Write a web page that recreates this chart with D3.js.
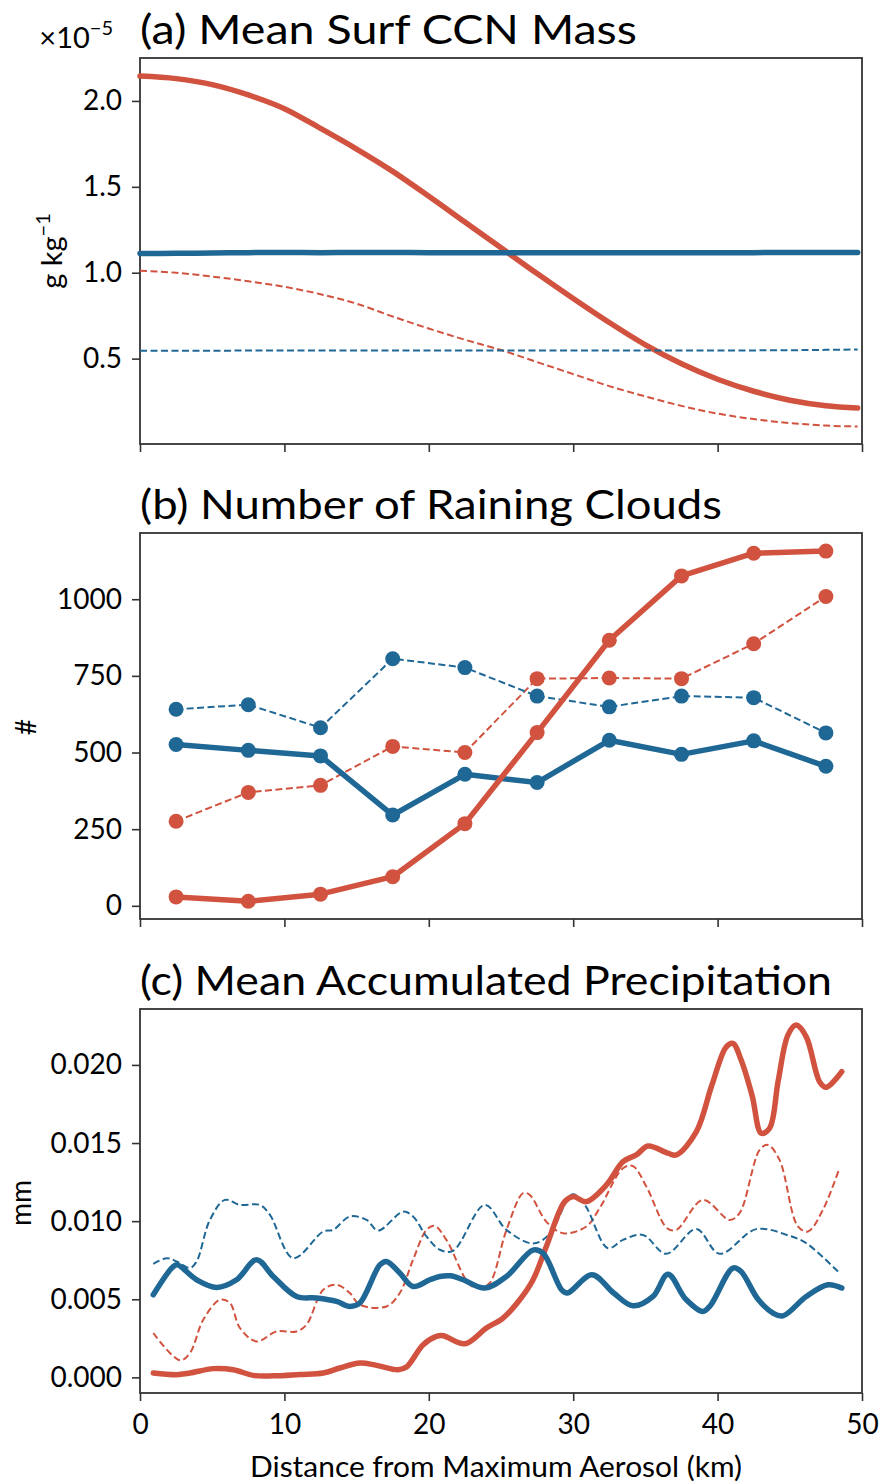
<!DOCTYPE html>
<html><head><meta charset="utf-8">
<script src="https://cdn.jsdelivr.net/npm/d3@7"></script>
<style>
body{margin:0;background:#fff}
text{font-family:Lato, "Open Sans", sans-serif;fill:#000}
</style>
</head><body>
<svg id="chart" width="883" height="1483"></svg>
<script>
// ---------- DATA ----------
const xTicks = [0, 10, 20, 30, 40, 50];

// (a) Mean Surf CCN Mass  (x10^-5 g/kg)
const aX = [0, 2.5, 5, 7.5, 10, 12.5, 15, 17.5, 20, 22.5, 25, 27.5, 30, 32.5, 35, 37.5, 40, 42.5, 45, 47.5, 49.7];
const aRedSolid  = [2.145, 2.13, 2.095, 2.035, 1.955, 1.84, 1.72, 1.59, 1.445, 1.295, 1.145, 0.995, 0.85, 0.71, 0.58, 0.47, 0.38, 0.31, 0.258, 0.226, 0.213];
const aRedDash   = [1.012, 1.0, 0.978, 0.95, 0.918, 0.875, 0.82, 0.745, 0.675, 0.61, 0.55, 0.48, 0.41, 0.34, 0.28, 0.225, 0.18, 0.148, 0.125, 0.11, 0.105];
const aBlueSolid = [1.112, 1.113, 1.115, 1.117, 1.118, 1.117, 1.118, 1.118, 1.117, 1.117, 1.116, 1.117, 1.117, 1.117, 1.117, 1.117, 1.117, 1.117, 1.118, 1.118, 1.118];
const aBlueDash  = [0.546, 0.546, 0.546, 0.547, 0.547, 0.547, 0.547, 0.547, 0.547, 0.547, 0.547, 0.547, 0.547, 0.547, 0.547, 0.547, 0.548, 0.548, 0.549, 0.551, 0.553];
const aTicks = [0.5, 1.0, 1.5, 2.0];

// (b) Number of Raining Clouds
const bX = [2.5, 7.5, 12.5, 17.5, 22.5, 27.5, 32.5, 37.5, 42.5, 47.5];
const bRedSolid  = [29, 15, 38, 95, 268, 565, 866, 1076, 1150, 1157];
const bRedDash   = [276, 370, 393, 520, 500, 741, 743, 741, 855, 1009];
const bBlueSolid = [526, 507, 489, 296, 429, 402, 540, 494, 538, 455];
const bBlueDash  = [641, 656, 581, 806, 777, 684, 649, 684, 679, 564];
const bTicks = [0, 250, 500, 750, 1000];

// (c) Mean Accumulated Precipitation (mm)
const cRedSolidX = [0.92, 2.54, 3.46, 5.08, 6.46, 7.84, 9.23, 11.07, 12.69, 13.84, 15.22, 16.38, 17.88, 18.45, 19.61, 20.53, 20.99, 22.49, 23.99, 25.14, 26.3, 27.22, 28.14, 29.41, 30.0, 30.91, 32.3, 33.45, 34.37, 35.18, 36.56, 37.14, 38.53, 39.6, 40.6, 41.06, 41.63, 42.4, 43.02, 43.6, 44.2, 44.87, 45.44, 46.14, 47.06, 47.52, 48.6];
const cRedSolid  = [0.00028, 0.00017, 0.00028, 0.00056, 0.00049, 0.00013, 0.0001, 0.00019, 0.00028, 0.0006, 0.00092, 0.00077, 0.00049, 0.00066, 0.00209, 0.00262, 0.00267, 0.00215, 0.00316, 0.0038, 0.00497, 0.00625, 0.00838, 0.01125, 0.01157, 0.01125, 0.01232, 0.01381, 0.01424, 0.01481, 0.01435, 0.01424, 0.01573, 0.0187, 0.02116, 0.02138, 0.02031, 0.018, 0.01563, 0.01595, 0.019, 0.02191, 0.02255, 0.0218, 0.01893, 0.01857, 0.01957];
const cRedDashX  = [0.92, 2.77, 3.46, 4.38, 5.54, 6.23, 6.92, 8.07, 9.46, 10.84, 11.53, 12.69, 13.61, 14.53, 15.22, 17.07, 17.99, 18.91, 19.84, 20.4, 21.22, 22.84, 23.53, 24.22, 25.38, 26.53, 26.99, 28.14, 29.3, 30.91, 31.83, 33.45, 34.14, 35.07, 36.5, 37.14, 38.98, 40.83, 41.52, 42.91, 43.48, 44.29, 45.56, 46.26, 47.29, 48.44];
const cRedDash   = [0.00284, 0.00109, 0.00156, 0.00369, 0.00497, 0.00476, 0.00316, 0.0023, 0.00294, 0.00294, 0.00337, 0.00561, 0.00593, 0.0054, 0.00465, 0.00454, 0.0054, 0.00753, 0.00944, 0.0097, 0.0088, 0.00593, 0.00572, 0.00604, 0.00944, 0.01179, 0.01168, 0.00997, 0.00923, 0.00966, 0.01083, 0.01339, 0.01352, 0.01221, 0.00955, 0.00944, 0.01136, 0.01008, 0.01051, 0.01456, 0.01488, 0.01392, 0.00966, 0.00934, 0.01072, 0.01339];
const cBlueSolidX = [0.92, 2.31, 2.6, 3.92, 5.31, 6.69, 8.07, 9.23, 10.84, 12.23, 13.61, 14.53, 15.22, 16.61, 17.07, 17.99, 18.91, 20.07, 20.76, 21.5, 22.38, 23.88, 25.38, 27.22, 27.91, 29.2, 29.6, 31.3, 32.8, 34.14, 35.53, 36.56, 37.8, 38.98, 39.5, 41.06, 41.6, 42.8, 43.83, 44.52, 46.14, 47.64, 48.6];
const cBlueSolid  = [0.00529, 0.0071, 0.0072, 0.00625, 0.00576, 0.00625, 0.00753, 0.00646, 0.00518, 0.00508, 0.00486, 0.00454, 0.00476, 0.0072, 0.00742, 0.00668, 0.00582, 0.00625, 0.00646, 0.0065, 0.00625, 0.00572, 0.00646, 0.00815, 0.00795, 0.0056, 0.0054, 0.00657, 0.0054, 0.00458, 0.00518, 0.0066, 0.005, 0.00422, 0.0046, 0.007, 0.0068, 0.005, 0.00412, 0.00394, 0.00518, 0.00593, 0.00572];
const cBlueDashX = [0.92, 1.85, 2.54, 3.46, 3.92, 4.84, 5.88, 6.92, 8.3, 9.0, 10.61, 12.69, 13.38, 14.53, 15.69, 16.49, 18.22, 18.91, 19.84, 20.76, 21.68, 23.88, 25.38, 27.22, 28.37, 29.95, 30.8, 32.4, 33.45, 34.83, 36.44, 38.53, 40.14, 42.67, 44.98, 46.14, 48.44];
const cBlueDash  = [0.00727, 0.00763, 0.00742, 0.007, 0.00742, 0.01008, 0.01136, 0.01104, 0.01104, 0.0104, 0.00763, 0.00934, 0.00944, 0.0103, 0.01008, 0.0094, 0.01061, 0.0103, 0.00902, 0.00817, 0.0081, 0.01104, 0.00944, 0.00857, 0.00918, 0.01172, 0.01105, 0.00827, 0.0088, 0.00912, 0.00791, 0.00949, 0.00791, 0.00949, 0.00906, 0.00859, 0.00668];
const cTicks = [0, 0.005, 0.01, 0.015, 0.02];

const titles = ["(a) Mean Surf CCN Mass", "(b) Number of Raining Clouds", "(c) Mean Accumulated Precipitation"];
const xLabel = "Distance from Maximum Aerosol (km)";

// ---------- STYLE / LAYOUT ----------
const RED = "#d1533f", BLUE = "#1f6896", AXC = "#333";
const svg = d3.select("#chart");
const x = d3.scaleLinear().domain([0, 50]).range([140, 862]);
const panels = [
  {top: 58,  bottom: 444, domain: [0.003, 2.25]},
  {top: 533, bottom: 919, domain: [-43, 1216]},
  {top: 1009, bottom: 1393, domain: [-0.001, 0.02358]}
];
const ys = panels.map(p => d3.scaleLinear().domain(p.domain).range([p.bottom, p.top]));
const tickFs = 28;

function frame(i, ticks, fmt, showX) {
  const p = panels[i], y = ys[i];
  const gy = svg.append("g").attr("transform", "translate(140,0)")
    .call(d3.axisLeft(y).tickValues(ticks).tickFormat(fmt).tickSize(8).tickPadding(10));
  const gx = svg.append("g").attr("transform", `translate(0,${p.bottom})`)
    .call(d3.axisBottom(x).tickValues(xTicks).tickFormat(showX ? d3.format("d") : "").tickSize(8).tickPadding(13));
  [gy, gx].forEach(g => {
    g.attr("font-size", tickFs).attr("font-family", "Lato");
    g.select(".domain").remove();
    g.selectAll("line").attr("stroke", AXC).attr("stroke-width", 1.6);
    g.selectAll("text").attr("fill", "#000");
  });
  svg.append("rect").attr("x", 140).attr("y", p.top).attr("width", 862 - 140).attr("height", p.bottom - p.top)
    .attr("fill", "none").attr("stroke", AXC).attr("stroke-width", 1.8);
}

function title(txt, baseline, width) {
  svg.append("text").attr("x", 140).attr("y", baseline).text(txt)
    .attr("font-size", 41).attr("textLength", width).attr("lengthAdjust", "spacingAndGlyphs");
}

function line(i, xs, vs, color, dashed, width) {
  const y = ys[i];
  const data = xs.map((d, k) => [d, vs[k]]);
  const gen = d3.line().x(d => x(d[0])).y(d => y(d[1])).curve(i === 2 ? d3.curveCatmullRom.alpha(0.5) : (i === 0 ? d3.curveMonotoneX : d3.curveLinear));
  svg.append("path").datum(data).attr("d", gen).attr("fill", "none").attr("stroke", color)
    .attr("stroke-width", width).attr("stroke-dasharray", dashed ? "7,3.5" : null)
    .attr("stroke-linejoin", "round").attr("stroke-linecap", dashed ? "butt" : "round");
  return data;
}
function dots(i, data, color) {
  svg.append("g").selectAll("circle").data(data).join("circle")
    .attr("cx", d => x(d[0])).attr("cy", d => ys[i](d[1])).attr("r", 7.5).attr("fill", color);
}

// ---------- PANEL A ----------
frame(0, aTicks, d3.format(".1f"), false);
line(0, aX, aRedSolid, RED, false, 5.5);
line(0, aX, aRedDash, RED, true, 2);
line(0, aX, aBlueSolid, BLUE, false, 5.5);
line(0, aX, aBlueDash, BLUE, true, 2);
title(titles[0], 44, 497);
const off = svg.append("text").attr("x", 113).attr("y", 48).attr("text-anchor", "end").attr("font-size", 29);
off.append("tspan").text("×10");
off.append("tspan").text("−5").attr("font-size", 20).attr("dy", -13);
const yl = svg.append("text").attr("transform", "translate(62,251) rotate(-90)").attr("text-anchor", "middle").attr("font-size", 29);
yl.append("tspan").text("g kg");
yl.append("tspan").text("−1").attr("font-size", 20).attr("dy", -12);

// ---------- PANEL B ----------
frame(1, bTicks, d3.format("d"), false);
const b1 = line(1, bX, bRedDash, RED, true, 2);
const b2 = line(1, bX, bBlueDash, BLUE, true, 2);
const b3 = line(1, bX, bBlueSolid, BLUE, false, 5.5);
const b4 = line(1, bX, bRedSolid, RED, false, 5.5);
dots(1, b1, RED); dots(1, b2, BLUE); dots(1, b3, BLUE); dots(1, b4, RED);
title(titles[1], 519, 582);
svg.append("text").attr("transform", "translate(36,727) rotate(-90)").attr("text-anchor", "middle").attr("font-size", 28).text("#");

// ---------- PANEL C ----------
frame(2, cTicks, d3.format(".3f"), true);
line(2, cRedDashX, cRedDash, RED, true, 2);
line(2, cBlueDashX, cBlueDash, BLUE, true, 2);
line(2, cRedSolidX, cRedSolid, RED, false, 5.5);
line(2, cBlueSolidX, cBlueSolid, BLUE, false, 5.5);
title(titles[2], 995, 692);
svg.append("text").attr("transform", "translate(31,1203) rotate(-90)").attr("text-anchor", "middle").attr("font-size", 28).text("mm");
svg.append("text").attr("x", 496).attr("y", 1477).attr("text-anchor", "middle").attr("font-size", 28)
  .attr("textLength", 492).attr("lengthAdjust", "spacingAndGlyphs").text(xLabel);
</script>
</body></html>
